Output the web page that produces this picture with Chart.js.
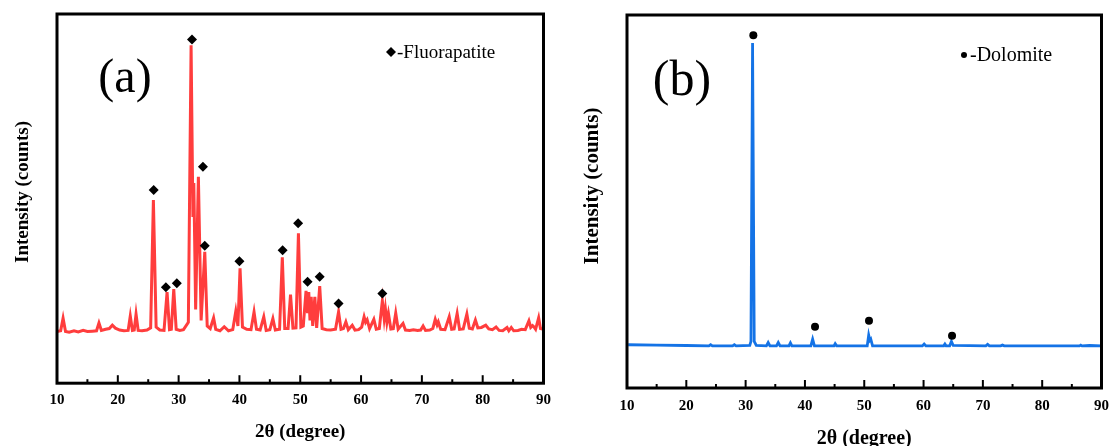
<!DOCTYPE html>
<html>
<head>
<meta charset="utf-8">
<script src="https://cdn.jsdelivr.net/npm/chart.js@4.4.1/dist/chart.umd.min.js"></script>
<style>
  html, body { margin: 0; padding: 0; background: #fff; overflow: hidden; }
  .panel { position: absolute; top: 0; }
</style>
</head>
<body>
<div class="panel" style="left:0"><canvas id="chartA" width="559" height="460"></canvas></div>
<div class="panel" style="left:559px"><canvas id="chartB" width="559" height="460"></canvas></div>
<script>
// XRD pattern (a): 2-theta angles and intensity (arb. units, 0-100)
const angleA = [
  10.0, 10.6, 11.0, 11.4, 12.0, 12.8, 13.5, 14.3, 15.0, 15.8, 16.5, 16.9, 17.3, 18.0, 18.6, 19.1, 19.6, 20.3,
  21.0, 21.7, 22.05, 22.4, 22.7, 23.0, 23.35, 24.0, 24.8, 25.4, 25.85, 26.3, 26.9, 27.6, 28.1, 28.5, 28.8, 29.2,
  29.6, 30.2, 30.8, 31.6, 32.05, 32.35, 32.5, 32.8, 33.25, 33.7, 34.3, 34.7, 35.2, 35.75, 36.1, 36.8, 37.5, 38.2,
  38.9, 39.4, 39.75, 40.1, 40.5, 41.2, 41.9, 42.4, 42.8, 43.4, 44.0, 44.4, 45.0, 45.5, 45.9, 46.6, 47.05, 47.45,
  48.0, 48.4, 48.8, 49.3, 49.7, 50.1, 50.5, 50.95, 51.2, 51.4, 51.6, 51.8, 52.05, 52.4, 52.7, 53.2, 53.6, 54.3,
  55.0, 55.8, 56.3, 56.7, 57.1, 57.5, 57.9, 58.55, 59.0, 59.6, 60.1, 60.5, 60.75, 61.0, 61.4, 62.1, 62.5, 63.0,
  63.5, 63.8, 64.0, 64.25, 64.5, 64.9, 65.3, 65.7, 66.1, 66.9, 67.3, 68.0, 68.6, 69.3, 69.8, 70.2, 70.6, 71.3,
  71.8, 72.2, 72.5, 72.7, 73.1, 73.8, 74.5, 74.9, 75.3, 75.8, 76.2, 76.8, 77.4, 77.8, 78.3, 78.8, 79.2, 79.8,
  80.5, 81.0, 81.6, 82.2, 82.7, 83.3, 84.0, 84.3, 84.7, 85.1, 85.8, 86.4, 87.0, 87.6, 87.9, 88.2, 88.4, 88.7,
  89.2, 89.5, 90.0
];
const countsA = [
  14.0, 14.2, 17.6, 14.0, 13.8, 14.2, 13.9, 14.3, 14.0, 14.1, 14.2, 16.3, 14.3, 14.6, 14.8, 15.7, 14.9, 14.4,
  14.2, 14.3, 18.2, 14.3, 14.4, 18.7, 14.3, 14.2, 14.4, 15.0, 49.6, 15.2, 14.4, 14.3, 24.7, 14.5, 14.6, 25.5,
  14.6, 14.3, 14.5, 16.5, 91.5, 45.0, 54.2, 20.0, 55.9, 17.0, 35.6, 15.5, 14.8, 17.7, 14.6, 14.2, 15.3, 14.2,
  14.5, 19.5, 15.5, 31.1, 15.2, 14.6, 14.5, 19.3, 14.6, 14.4, 18.0, 14.3, 14.5, 17.5, 14.4, 14.6, 34.1, 14.8,
  14.8, 24.0, 14.9, 15.0, 40.6, 15.2, 15.5, 25.0, 19.0, 24.7, 17.0, 23.4, 15.5, 23.4, 15.0, 26.3, 14.8, 14.5,
  14.4, 14.6, 19.3, 14.6, 14.8, 16.6, 14.5, 15.7, 14.4, 14.5, 15.2, 18.0, 16.5, 17.2, 14.8, 17.3, 14.6, 14.8,
  22.3, 17.5, 20.2, 16.5, 18.9, 14.7, 14.8, 19.0, 14.6, 16.2, 14.4, 14.3, 14.5, 14.3, 14.4, 15.5, 14.3, 14.4,
  14.8, 17.3, 15.8, 16.6, 14.6, 14.5, 18.0, 14.6, 14.7, 18.9, 14.6, 14.7, 18.7, 14.9, 14.7, 17.1, 15.0, 15.1,
  15.7, 14.7, 14.5, 15.2, 14.3, 14.2, 15.1, 14.2, 15.1, 14.2, 14.3, 14.6, 14.5, 16.9, 15.1, 15.6, 15.3, 14.6,
  17.7, 14.8, 14.6
];
// Fluorapatite reflections marked on pattern (a)
const markAngleA  = [25.9, 27.9, 29.7, 32.2, 34.0, 34.3, 40.0, 47.1, 49.65, 51.2, 53.2, 56.3, 63.5];
const markCountsA = [52.3, 26.0, 27.1, 93.1, 58.6, 37.2, 33.0, 36.0, 43.3, 27.5, 28.8, 21.6, 24.3];

// XRD pattern (b)
const angleB = [
  10.2, 15.0, 20.0, 23.8, 24.1, 24.4, 27.8, 28.1, 28.4, 30.7, 30.9, 31.17, 31.45, 31.8, 33.5, 33.8, 34.1,
  35.2, 35.5, 35.8, 37.3, 37.55, 37.8, 41.0, 41.3, 41.6, 44.9, 45.1, 45.35, 50.5, 50.75, 50.95, 51.1, 51.4,
  59.8, 60.1, 60.4, 63.4, 63.6, 63.8, 64.4, 64.7, 65.0, 70.5, 70.8, 71.1, 73.0, 73.3, 73.6, 80.0, 86.3,
  86.5, 86.7, 88.0, 90.0
];
const countsB = [
  11.6, 11.5, 11.4, 11.3, 11.6, 11.3, 11.3, 11.6, 11.3, 11.4, 12.5, 92.5, 12.5, 11.4, 11.3, 12.2, 11.3,
  11.3, 12.2, 11.3, 11.3, 12.1, 11.3, 11.3, 13.1, 11.3, 11.3, 11.9, 11.3, 11.3, 14.2, 12.8, 13.1, 11.3,
  11.3, 11.8, 11.3, 11.3, 11.8, 11.3, 11.3, 12.5, 11.4, 11.3, 11.7, 11.3, 11.3, 11.5, 11.3, 11.3, 11.3,
  11.5, 11.3, 11.4, 11.3
];
// Dolomite reflections marked on pattern (b)
const markAngleB  = [31.3, 41.7, 50.8, 64.8];
const markCountsB = [94.6, 16.4, 18.0, 14.0];

const minorTicks = [15, 25, 35, 45, 55, 65, 75, 85];

const SERIF = '"Liberation Serif", "Times New Roman", serif';

const toPoints = (xs, ys) => xs.map((x, i) => ({ x: x, y: ys[i] }));

// Draws the box frame, inward ticks, rotated y title, panel letter and phase key
const frameAndText = {
  id: 'frameAndText',
  afterDatasetsDraw(chart, args, opts) {
    const { ctx, chartArea: a } = chart;
    const x = chart.scales.x;
    ctx.save();
    ctx.strokeStyle = '#000';
    ctx.lineWidth = 2;
    x.ticks.forEach(t => {
      const px = x.getPixelForValue(t.value);
      ctx.beginPath(); ctx.moveTo(px, a.bottom); ctx.lineTo(px, a.bottom - 8); ctx.stroke();
    });
    minorTicks.forEach(v => {
      const px = x.getPixelForValue(v);
      ctx.beginPath(); ctx.moveTo(px, a.bottom); ctx.lineTo(px, a.bottom - 4); ctx.stroke();
    });
    ctx.lineWidth = 3;
    ctx.strokeRect(a.left, a.top, a.right - a.left, a.bottom - a.top);

    ctx.fillStyle = '#000';
    // y title
    ctx.save();
    ctx.translate(opts.yTitle.x, opts.yTitle.y);
    ctx.rotate(-Math.PI / 2);
    ctx.font = 'bold ' + opts.yTitle.size + 'px ' + SERIF;
    ctx.textAlign = 'center';
    ctx.textBaseline = 'middle';
    ctx.fillText('Intensity (counts)', 0, 0);
    ctx.restore();

    // panel letter
    ctx.font = opts.letter.size + 'px ' + SERIF;
    ctx.textAlign = 'center';
    ctx.textBaseline = 'middle';
    ctx.fillText(opts.letter.text, opts.letter.x, opts.letter.y);

    // phase key
    const k = opts.key;
    ctx.beginPath();
    if (k.style === 'rectRot') {
      ctx.moveTo(k.x, k.y - 5); ctx.lineTo(k.x + 5, k.y); ctx.lineTo(k.x, k.y + 5); ctx.lineTo(k.x - 5, k.y);
      ctx.closePath();
    } else {
      ctx.arc(k.x, k.y, 3, 0, Math.PI * 2);
    }
    ctx.fill();
    ctx.font = k.size + 'px ' + SERIF;
    ctx.textAlign = 'left';
    ctx.fillText(k.text, k.x + 6, k.y + 1);
    ctx.restore();
  }
};

function makeChart(id, line, marks, color, lineWidth, markStyle, markRadius, padding, xFont, xPad, titleFont, titlePad, panelOpts) {
  return new Chart(document.getElementById(id), {
    type: 'line',
    data: {
      datasets: [
        {
          data: line,
          borderColor: color,
          borderWidth: lineWidth,
          pointRadius: 0,
          tension: 0,
          order: 2
        },
        {
          data: marks,
          showLine: false,
          pointStyle: markStyle,
          pointRadius: markRadius,
          pointBackgroundColor: '#000',
          pointBorderColor: '#000',
          pointBorderWidth: 0,
          order: 1
        }
      ]
    },
    options: {
      animation: false,
      responsive: false,
      devicePixelRatio: 1,
      layout: { padding: padding },
      plugins: {
        legend: { display: false },
        tooltip: { enabled: false },
        frameAndText: panelOpts
      },
      scales: {
        x: {
          type: 'linear',
          min: 10,
          max: 90,
          ticks: {
            stepSize: 10,
            color: '#000',
            padding: xPad,
            font: { family: SERIF, weight: 'bold', size: xFont }
          },
          grid: { display: false, drawTicks: false },
          border: { display: false },
          title: {
            display: true,
            text: '2θ (degree)',
            color: '#000',
            font: { family: SERIF, weight: 'bold', size: titleFont },
            padding: { top: titlePad, bottom: 0 }
          }
        },
        y: { display: false, min: 0, max: 100 }
      }
    },
    plugins: [frameAndText]
  });
}

makeChart('chartA', toPoints(angleA, countsA), toPoints(markAngleA, markCountsA), '#ff3d3d', 3, 'rectRot', 5,
  { left: 57, top: 14, right: 11, bottom: 17 }, 15, 8, 19, 3,
  {
    yTitle: { x: 23, y: 192, size: 19 },
    letter: { text: '(a)', x: 125, y: 79, size: 48 },
    key: { style: 'rectRot', x: 391, y: 52, text: '-Fluorapatite', size: 19 }
  });

makeChart('chartB', toPoints(angleB, countsB), toPoints(markAngleB, markCountsB), '#1473e6', 2.8, 'circle', 4,
  { left: 68, top: 15, right: 11, bottom: 9 }, 15, 9, 20, 3,
  {
    yTitle: { x: 34, y: 186, size: 21 },
    letter: { text: '(b)', x: 123, y: 82, size: 50 },
    key: { style: 'circle', x: 405, y: 55, text: '-Dolomite', size: 20 }
  });
</script>
</body>
</html>
